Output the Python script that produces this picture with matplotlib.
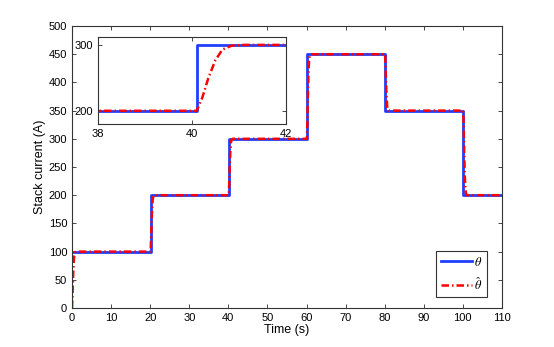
import numpy as np
import matplotlib
matplotlib.use('Agg')
import matplotlib.pyplot as plt

# reference current (theta): level changes at these times
step_times = [0.0, 20.1, 40.1, 60.1, 80.1, 100.1]
theta_levels = [100, 200, 300, 450, 350, 200]
t_end = 110.0

# estimate (theta hat) lag profile (time after step, fraction of step)
lag_dt = [0.0, 0.12, 0.25, 0.4, 0.55, 0.75, 1.0]
lag_frac = [0.0, 0.2, 0.5, 0.77, 0.93, 0.99, 1.0]
est_start = 0.0

plt.rcParams['font.family'] = ['Liberation Sans', 'DejaVu Sans']
plt.rcParams['mathtext.fontset'] = 'stix'
plt.rcParams['font.size'] = 8

# build the step series
th_t, th_y = [], []
for i, ts in enumerate(step_times):
    te = step_times[i + 1] if i + 1 < len(step_times) else t_end
    th_t += [ts, te]
    th_y += [theta_levels[i], theta_levels[i]]

est_t, est_y = [], []
prev = est_start
for i, ts in enumerate(step_times):
    lvl = theta_levels[i]
    for dt, f in zip(lag_dt, lag_frac):
        est_t.append(ts + dt)
        est_y.append(prev + f * (lvl - prev))
    prev = lvl
est_t.append(t_end)
est_y.append(prev)

blue = '#1f3fff'
dd = (3, 1.2, 0.6, 1.2)

fig = plt.figure(figsize=(5.54, 3.47), dpi=100)
ax = fig.add_axes([0.13, 0.1124, 0.776, 0.8126])
ax.plot(th_t, th_y, color=blue, lw=2, label=r'$\theta$')
ax.plot(est_t, est_y, color='red', lw=1.8, ls='-.', dashes=dd, label=r'$\hat{\theta}$')
ax.set_xlim(0, 110)
ax.set_ylim(0, 500)
ax.set_xticks(np.arange(0, 111, 10))
ax.set_yticks(np.arange(0, 501, 50))
ax.tick_params(direction='in', top=True, right=True, length=3, width=0.5)
for s in ax.spines.values():
    s.set_linewidth(0.8)
    s.set_color('#333333')
ax.set_xlabel('Time (s)', fontsize=9, labelpad=1)
ax.set_ylabel('Stack current (A)', fontsize=9, labelpad=2)
leg = ax.legend(loc='lower right', bbox_to_anchor=(0.965, 0.039), fontsize=9,
                fancybox=False, framealpha=1, edgecolor='#333333',
                handlelength=2.5, handletextpad=0.2, borderpad=0.35,
                labelspacing=0.6, borderaxespad=0)
leg.get_frame().set_linewidth(0.8)

ins = fig.add_axes([0.177, 0.6427, 0.339, 0.2507])
ins.plot(th_t, th_y, color=blue, lw=2)
ins.plot(est_t, est_y, color='red', lw=1.8, ls='-.', dashes=dd)
ins.set_xlim(38, 42)
ins.set_ylim(180, 312)
ins.set_xticks([38, 40, 42])
ins.set_yticks([200, 300])
ins.tick_params(direction='in', top=True, right=True, length=3, width=0.5, labelsize=8)
for s in ins.spines.values():
    s.set_linewidth(0.8)
    s.set_color('#333333')

fig.savefig('out.png', dpi=100)
